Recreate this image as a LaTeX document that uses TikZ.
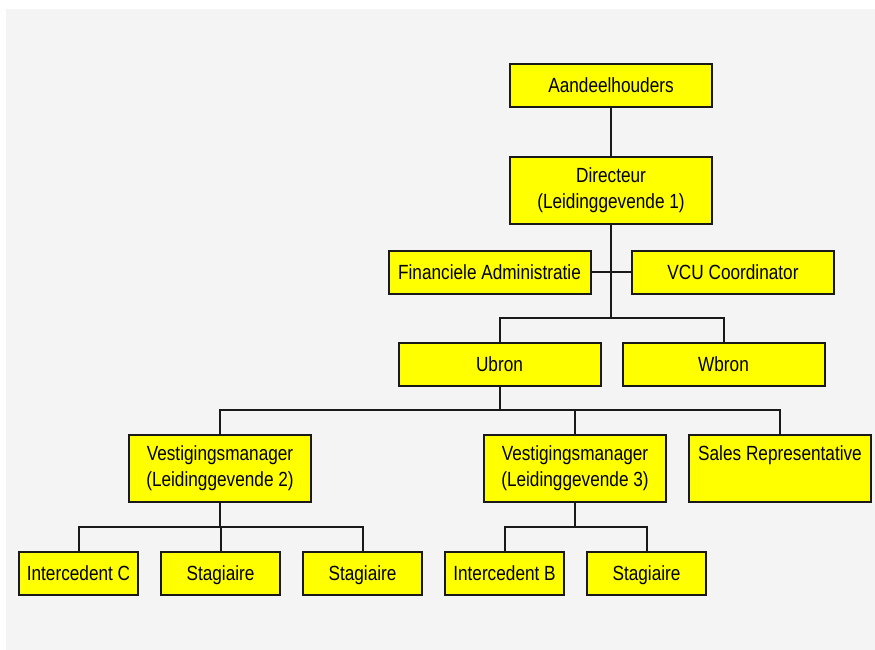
\documentclass[tikz,border=0pt]{standalone}
\usepackage{fontspec}
\setmainfont[FakeStretch=0.84]{Liberation Sans}
\begin{document}
\begin{tikzpicture}[x=1pt,y=-1pt,
  box/.style={draw=black!90, line width=2pt, fill=boxyellow, inner sep=0pt,
    align=center, font=\fontsize{20.5}{25.7}\selectfont, text=black},
  oneline/.style={text height=14.7pt, text depth=0pt},
  wide/.style={box, minimum width=202pt, minimum height=43pt},
  tall/.style={box, minimum width=182pt, minimum height=67pt},
  small/.style={box, oneline, minimum width=119pt, minimum height=43pt},
  link/.style={draw=black!90, line width=2pt}]
\definecolor{boxyellow}{HTML}{FFFF00}
\definecolor{canvas}{HTML}{F4F4F4}
\useasboundingbox (0,0) rectangle (875,650);
\fill[white] (0,0) rectangle (875,650);
\fill[canvas] (6,9) rectangle (875,650);

% top of the hierarchy
\node[wide, oneline] (aand) at (611,85.5) {Aandeelhouders};
\node[wide, minimum height=67pt] (dir) at (611,190.5) {Directeur\\(Leidinggevende 1)};
\node[wide, oneline] (fin) at (489.5,272) {Financiele Administratie};
\node[wide, oneline] (vcu) at (733,272) {VCU Coordinator};
\node[wide, oneline] (ubron) at (499.5,364) {Ubron};
\node[wide, oneline] (wbron) at (723.5,364) {Wbron};

% branch managers
\node[tall] (vm2) at (220,468.5) {Vestigingsmanager\\(Leidinggevende 2)};
\node[tall] (vm3) at (575,468.5) {Vestigingsmanager\\(Leidinggevende 3)};
\node[tall] (sales) at (780,468.5) {Sales Representative\\\phantom{(L)}};

% staff
\node[small] (ic) at (78.5,573.5) {Intercedent C};
\node[small] (st1) at (220.5,573.5) {Stagiaire};
\node[small] (st2) at (362.5,573.5) {Stagiaire};
\node[small] (ib) at (504.5,573.5) {Intercedent B};
\node[small] (st3) at (646.5,573.5) {Stagiaire};

% connectors
\coordinate (busA) at (611,318);
\coordinate (busB) at (499.5,410);
\coordinate (busC) at (220,527);
\coordinate (busD) at (575,527);

\draw[link] (aand) -- (dir);
\draw[link] (dir.south) -- (busA);
\draw[link] (fin.east) -- (vcu.west);
\draw[link] (ubron.north) |- (busA) -| (wbron.north);

\draw[link] (ubron.south) -- (busB);
\draw[link] (vm2.north) |- (busB) -| (sales.north);
\draw[link] (busB -| vm3.north) -- (vm3.north);

\draw[link] (vm2.south) -- (busC);
\draw[link] (ic.north) |- (busC) -| (st2.north);
\draw[link] (busC -| st1.north) -- (st1.north);

\draw[link] (vm3.south) -- (busD);
\draw[link] (ib.north) |- (busD) -| (st3.north);
\end{tikzpicture}
\end{document}
